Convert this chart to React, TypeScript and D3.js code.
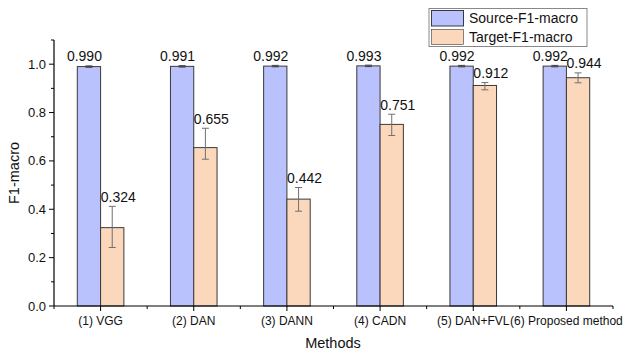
import React from "react";
import * as d3 from "d3";

const methods = ["(1) VGG", "(2) DAN", "(3) DANN", "(4) CADN", "(5) DAN+FVL", "(6) Proposed method"];
const sourceF1 = [0.99, 0.991, 0.992, 0.993, 0.992, 0.992];
const targetF1 = [0.324, 0.655, 0.442, 0.751, 0.912, 0.944];
const sourceErr = [0.003, 0.003, 0.003, 0.003, 0.003, 0.003];
const targetErrUp = [0.088, 0.08, 0.048, 0.042, 0.012, 0.02];
const targetErrDown = [0.082, 0.048, 0.05, 0.046, 0.018, 0.021];
const yTicks = [0, 0.2, 0.4, 0.6, 0.8, 1.0];
const yMinorTicks = [0.1, 0.3, 0.5, 0.7, 0.9, 1.1];

const W = 637;
const H = 352;
const left = 54;
const right = 613;
const top = 40;
const bottom = 306;

const SRC_FILL = "#bac2fd";
const TGT_FILL = "#fbd8bb";
const EDGE = "#3a3a3a";
const FONT = "Liberation Sans, Arial, sans-serif";

export default function App() {
  const x = d3.scaleBand<string>().domain(methods).range([left, right]).padding(0);
  const y = d3.scaleLinear().domain([0, 1.1]).range([bottom, top]);
  const bw = x.bandwidth() * 0.25;
  const cx = (m: string) => (x(m) as number) + x.bandwidth() / 2;
  const fmt = d3.format(".3f");

  const errBar = (xc: number, lo: number, hi: number, key: string, color: string) => (
    <g key={key} stroke={color} strokeWidth={1}>
      <line x1={xc} x2={xc} y1={y(lo)} y2={y(hi)} />
      <line x1={xc - 3.5} x2={xc + 3.5} y1={y(lo)} y2={y(lo)} />
      <line x1={xc - 3.5} x2={xc + 3.5} y1={y(hi)} y2={y(hi)} />
    </g>
  );

  const boundaries = d3.range(methods.length + 1).map((i) => left + i * x.bandwidth());

  return (
    <svg width={W} height={H} style={{ position: "absolute", left: 0, top: 0 }} fontFamily={FONT}>
      <rect width={W} height={H} fill="#fff" />
      {methods.map((m, i) => {
        const c = cx(m);
        return (
          <g key={m}>
            <rect x={c - bw} y={y(sourceF1[i])} width={bw} height={bottom - y(sourceF1[i])} fill={SRC_FILL} stroke={EDGE} strokeWidth={1} />
            <rect x={c} y={y(targetF1[i])} width={bw} height={bottom - y(targetF1[i])} fill={TGT_FILL} stroke={EDGE} strokeWidth={1} />
            {errBar(c - bw / 2, sourceF1[i] - sourceErr[i], sourceF1[i] + sourceErr[i], "se" + i, "#444")}
            {errBar(c + bw / 2, targetF1[i] - targetErrDown[i], targetF1[i] + targetErrUp[i], "te" + i, "#707070")}
            <text x={c - bw / 2 - 4.5} y={y(sourceF1[i] + sourceErr[i]) - 4.5} fontSize={14} textAnchor="middle" fill="#111">
              {fmt(sourceF1[i])}
            </text>
            <text x={c + bw / 2 + 6} y={y(targetF1[i] + targetErrUp[i]) - 4.5} fontSize={14} textAnchor="middle" fill="#111">
              {fmt(targetF1[i])}
            </text>
          </g>
        );
      })}

      {/* y axis */}
      <line x1={left} x2={left} y1={top} y2={bottom} stroke="#000" strokeWidth={1.2} />
      {yTicks.map((t) => (
        <g key={t}>
          <line x1={left - 5} x2={left} y1={y(t)} y2={y(t)} stroke="#000" />
          <text x={left - 8} y={y(t)} dy="0.35em" fontSize={13} textAnchor="end" fill="#111">
            {t.toFixed(1)}
          </text>
        </g>
      ))}
      {yMinorTicks.map((t) => (
        <line key={t} x1={left - 3} x2={left} y1={y(t)} y2={y(t)} stroke="#000" />
      ))}

      {/* x axis */}
      <line x1={left} x2={right} y1={bottom} y2={bottom} stroke="#000" strokeWidth={1.2} />
      {methods.map((m) => (
        <g key={m}>
          <line x1={cx(m)} x2={cx(m)} y1={bottom} y2={bottom + 5} stroke="#000" />
          <text x={cx(m)} y={325} fontSize={12} textAnchor="middle" fill="#111">
            {m}
          </text>
        </g>
      ))}
      {boundaries.map((b) => (
        <line key={b} x1={b} x2={b} y1={bottom} y2={bottom + 3} stroke="#000" />
      ))}

      {/* axis titles */}
      <text x={333} y={348} fontSize={14.5} textAnchor="middle" fill="#111">
        Methods
      </text>
      <text transform={`translate(19,${(top + bottom) / 2}) rotate(-90)`} fontSize={14.5} textAnchor="middle" fill="#111">
        F1-macro
      </text>

      {/* legend */}
      <rect x={429} y={8.5} width={158} height={38} fill="#fff" stroke="#888" strokeWidth={1} />
      <rect x={431.5} y={10.5} width={32} height={15.5} fill={SRC_FILL} stroke={EDGE} strokeWidth={1} />
      <rect x={431.5} y={29.5} width={32} height={15} fill={TGT_FILL} stroke={EDGE} strokeWidth={0.6} />
      <text x={469} y={23} fontSize={14} fill="#111">
        Source-F1-macro
      </text>
      <text x={469} y={42} fontSize={14} fill="#111">
        Target-F1-macro
      </text>
    </svg>
  );
}
